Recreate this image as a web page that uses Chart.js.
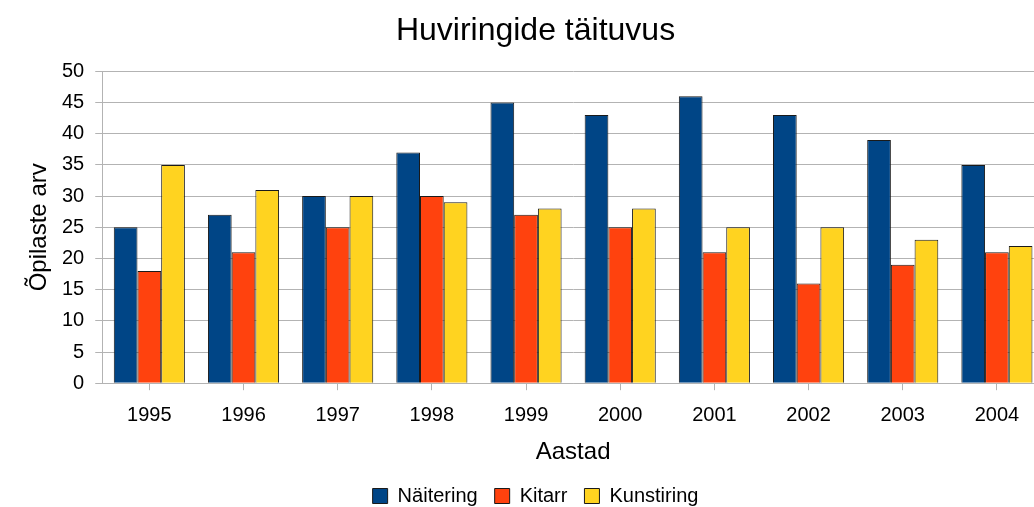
<!DOCTYPE html>
<html><head><meta charset="utf-8">
<script src="https://cdn.jsdelivr.net/npm/chart.js@4/dist/chart.umd.min.js"></script>
<style>html,body{margin:0;padding:0;overflow:hidden;background:#fff;width:1034px;height:507px}
#wrap{width:1046px;height:507px;position:relative}</style>
</head><body>
<div id="wrap"><canvas id="c" width="1046" height="507"></canvas></div>
<script>
const categories = ['1995','1996','1997','1998','1999','2000','2001','2002','2003','2004'];
const naitering = [25,27,30,37,45,43,46,43,39,35];
const kitarr = [18,21,25,30,27,25,21,16,19,21];
const kunstiring = [35,31,30,29,28,28,25,25,23,22];
const seriesNames = ['Näitering','Kitarr','Kunstiring'];
const colors = ['#004586','#ff420e','#ffd320'];
const font = 'Liberation Sans, Arial, sans-serif';
new Chart(document.getElementById('c'), {
  type: 'bar',
  data: {
    labels: categories,
    datasets: [naitering, kitarr, kunstiring].map((d,i)=>({
      label: seriesNames[i], data: d, backgroundColor: colors[i],
      borderColor: '#1a1a1a', borderWidth: 1,
      barPercentage: 1.0, categoryPercentage: 0.755
    }))
  },
  options: {
    responsive: false, animation: false,
    layout: {padding: {left: 27, right: 2, top: 10, bottom: -9}},
    plugins: {
      title: {display: true, text: 'Huviringide täituvus', color: '#000',
        font: {family: font, size: 32, weight: 'normal'}, padding: {top: 2, bottom: 21}},
      legend: {position: 'bottom', labels: {color: '#000', font: {family: font, size: 20},
        boxWidth: 15, boxHeight: 15, padding: 17}},
      tooltip: {enabled: false}
    },
    scales: {
      x: {
        grid: {drawOnChartArea: false, drawTicks: true, tickLength: 7, offset: false, color: '#b3b3b3'},
        border: {display: true, color: '#b3b3b3'},
        ticks: {color: '#000', font: {family: font, size: 20}, padding: 13, maxRotation: 0},
        title: {display: true, text: 'Aastad', color: '#000', font: {family: font, size: 24}, padding: {top: -2, bottom: 2}}
      },
      y: {
        min: 0, max: 50,
        grid: {color: '#b3b3b3', tickLength: 7},
        border: {display: true, color: '#b3b3b3'},
        ticks: {stepSize: 5, color: '#000', font: {family: font, size: 20}, padding: 11},
        title: {display: true, text: 'Õpilaste arv', color: '#000', font: {family: font, size: 24, lineHeight: 1.0}, padding: {top: 0, bottom: 0}}
      }
    }
  }
});
</script>
</body></html>
